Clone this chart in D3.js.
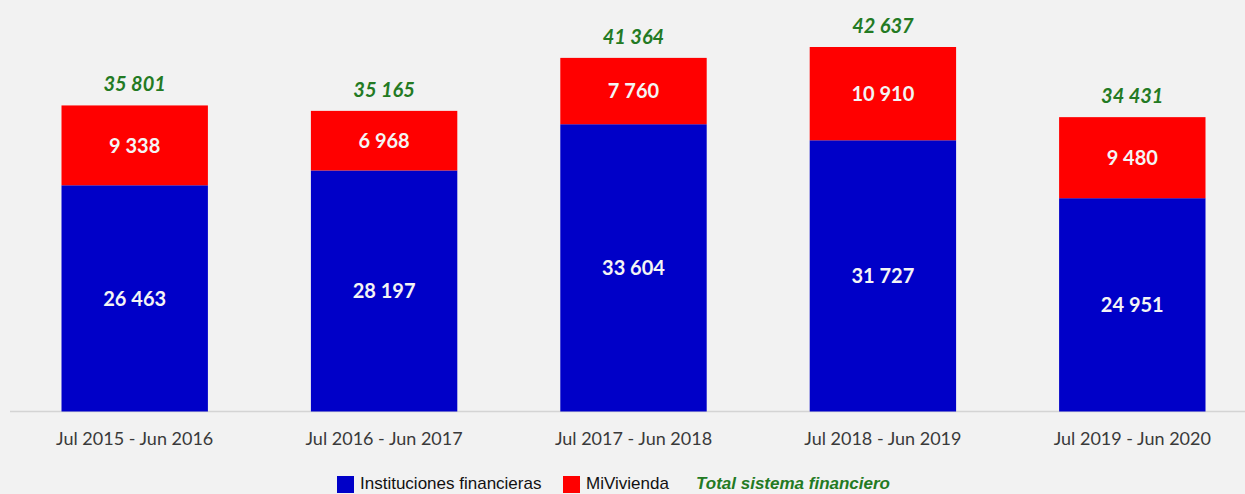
<!DOCTYPE html>
<html>
<head>
<meta charset="utf-8">
<script src="https://cdn.jsdelivr.net/npm/d3@7"></script>
<style>
  html, body { margin: 0; padding: 0; background: #f2f2f2; }
  svg { display: block; }
</style>
</head>
<body>
<svg id="chart" width="1245" height="494"></svg>
<script>
// Periods and stacked values (number of loans)
const periods = ["Jul 2015 - Jun 2016", "Jul 2016 - Jun 2017", "Jul 2017 - Jun 2018", "Jul 2018 - Jun 2019", "Jul 2019 - Jun 2020"];
const instituciones = [26463, 28197, 33604, 31727, 24951];
const miVivienda = [9338, 6968, 7760, 10910, 9480];
const totals = [35801, 35165, 41364, 42637, 34431];

const seriesNames = ["Instituciones financieras", "MiVivienda"];
const seriesColors = ["#0000c8", "#ff0000"];
const totalLabel = "Total sistema financiero";
const totalColor = "#237a23";

const svg = d3.select("#chart");
const W = 1245, baseY = 411.5;

const rows = periods.map((p, i) => ({ period: p, inst: instituciones[i], mivi: miVivienda[i], total: totals[i] }));
const stack = d3.stack().keys(["inst", "mivi"])(rows);

const x = d3.scaleBand().domain(periods).range([10, 1257]).paddingInner(0.413).paddingOuter(0.2065);
const y = d3.scaleLinear().domain([0, 42637]).range([baseY, 47]);

const fmt = v => d3.format(",")(v).replace(/,/g, " ");

// Baseline
svg.append("line")
  .attr("x1", 10).attr("x2", W)
  .attr("y1", baseY).attr("y2", baseY)
  .attr("stroke", "#d4d4d4").attr("stroke-width", 1.5);

// Stacked bars
const layers = svg.selectAll("g.layer").data(stack).join("g")
  .attr("class", "layer")
  .attr("fill", (d, i) => seriesColors[i]);

layers.selectAll("rect").data(d => d).join("rect")
  .attr("x", d => x(d.data.period))
  .attr("width", x.bandwidth())
  .attr("y", d => y(d[1]))
  .attr("height", d => y(d[0]) - y(d[1]));

// Segment value labels
layers.selectAll("text").data(d => d).join("text")
  .attr("x", d => x(d.data.period) + x.bandwidth() / 2)
  .attr("y", d => (y(d[0]) + y(d[1])) / 2)
  .attr("dy", "0.36em")
  .attr("text-anchor", "middle")
  .attr("fill", "#f4f4f4")
  .attr("font-family", "Lato, 'Open Sans', sans-serif")
  .attr("font-weight", "bold")
  .attr("font-size", 20)
  .text(d => fmt(d[1] - d[0]));

// Totals above bars
svg.selectAll("text.total").data(rows).join("text")
  .attr("class", "total")
  .attr("x", d => x(d.period) + x.bandwidth() / 2)
  .attr("y", d => y(d.total) - 14)
  .attr("text-anchor", "middle")
  .attr("fill", totalColor)
  .attr("font-family", "Lato, 'Open Sans', sans-serif")
  .attr("font-weight", "bold")
  .attr("font-style", "italic")
  .attr("font-size", 20)
  .text(d => fmt(d.total));

// Category axis
const xAxis = svg.append("g")
  .attr("transform", `translate(0,${baseY})`)
  .call(d3.axisBottom(x).tickSize(0).tickPadding(0));
xAxis.select(".domain").remove();
xAxis.selectAll("text")
  .attr("y", 33)
  .attr("dy", 0)
  .attr("fill", "#3a3a3a")
  .attr("font-family", "Lato, 'Open Sans', sans-serif")
  .attr("font-size", 18);

// Legend
const legend = svg.append("g").attr("font-family", "'Liberation Sans', Arial, sans-serif").attr("font-size", 17);
const legendItems = [
  { x: 337, label: seriesNames[0], color: seriesColors[0] },
  { x: 563, label: seriesNames[1], color: seriesColors[1] }
];
legendItems.forEach(it => {
  legend.append("rect").attr("x", it.x).attr("y", 476).attr("width", 17).attr("height", 17).attr("fill", it.color);
  legend.append("text").attr("x", it.x + 23).attr("y", 489).attr("fill", "#111").text(it.label);
});
legend.append("text")
  .attr("x", 696).attr("y", 489)
  .attr("fill", totalColor)
  .attr("font-weight", "bold")
  .attr("font-style", "italic")
  .text(totalLabel);
</script>
</body>
</html>
